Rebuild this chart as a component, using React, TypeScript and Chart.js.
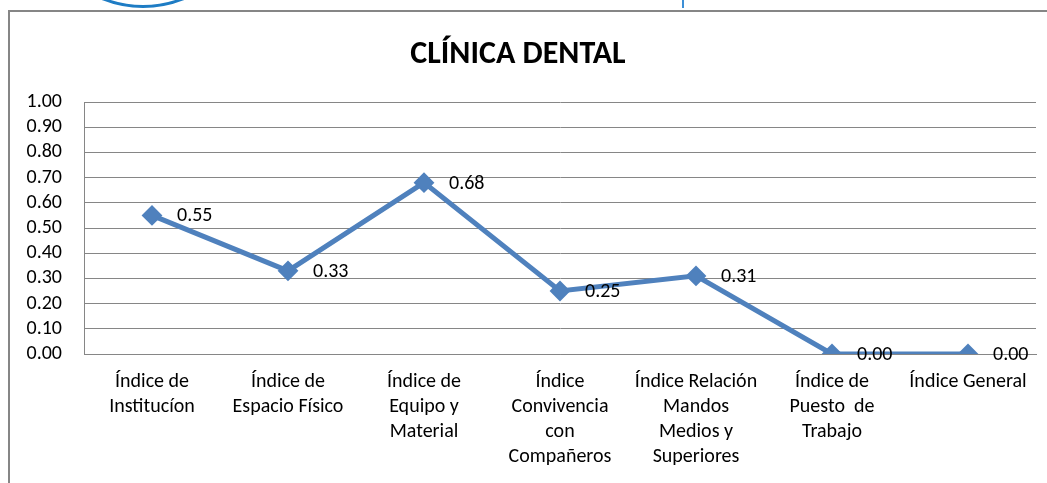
import React, { useEffect, useRef } from "react";
import { Chart, registerables } from "chart.js";

Chart.register(...registerables);

const TITLE = "CLÍNICA DENTAL";
const CATEGORIES: string[][] = [
  ["Índice de", "Institucíon"],
  ["Índice de", "Espacio Físico"],
  ["Índice de", "Equipo y", "Material"],
  ["Índice", "Convivencia", "con", "Compañeros"],
  ["Índice Relación", "Mandos", "Medios y", "Superiores"],
  ["Índice de", "Puesto  de", "Trabajo"],
  ["Índice General"],
];
const VALUES: number[] = [0.55, 0.33, 0.68, 0.25, 0.31, 0.0, 0.0];
const Y_MIN = 0;
const Y_MAX = 1;
const Y_STEP = 0.1;

const FONT = "Carlito, Lato, 'Liberation Sans', sans-serif";
const LINE_COLOR = "#4F81BD";
const GRID_COLOR = "#868686";

const dataLabels = {
  id: "dataLabels",
  afterDatasetsDraw(chart: any) {
    const ctx = chart.ctx;
    const meta = chart.getDatasetMeta(0);
    ctx.save();
    ctx.font = `20px ${FONT}`;
    ctx.fillStyle = "#000";
    ctx.textAlign = "left";
    ctx.textBaseline = "middle";
    meta.data.forEach((pt: any, i: number) => {
      const v = chart.data.datasets[0].data[i] as number;
      ctx.fillText(v.toFixed(2), pt.x + 25, pt.y + 1);
    });
    ctx.restore();
  },
};

export default function App() {
  const ref = useRef<HTMLCanvasElement>(null);
  useEffect(() => {
    if (!ref.current) return;
    const chart = new Chart(ref.current, {
      type: "line",
      data: {
        labels: CATEGORIES,
        datasets: [
          {
            data: VALUES,
            borderColor: LINE_COLOR,
            backgroundColor: LINE_COLOR,
            borderWidth: 5,
            pointStyle: "rectRot",
            pointRadius: 9,
            pointBorderWidth: 2,
            pointBackgroundColor: LINE_COLOR,
            pointBorderColor: LINE_COLOR,
            tension: 0,
            fill: false,
          },
        ],
      },
      options: {
        responsive: false,
        animation: false,
        layout: { padding: { left: 0, right: 11, top: 0, bottom: 0 } },
        plugins: {
          legend: { display: false },
          tooltip: { enabled: false },
          title: {
            display: true,
            text: TITLE,
            color: "#000",
            font: { family: FONT, size: 32, weight: "bold" },
            padding: { top: 36, bottom: 27.6 },
          },
        },
        scales: {
          x: {
            offset: true,
            grid: { display: false, drawTicks: false },
            border: { display: true, color: GRID_COLOR, width: 1 },
            ticks: {
              color: "#000",
              font: { family: FONT, size: 20, lineHeight: 1.24 },
              padding: 16,
              autoSkip: false,
              maxRotation: 0,
              minRotation: 0,
            },
            afterFit: (s: any) => {
              s.height = 129;
            },
          },
          y: {
            min: Y_MIN,
            max: Y_MAX,
            grid: { color: GRID_COLOR, lineWidth: 1, drawTicks: false },
            border: { display: true, color: GRID_COLOR, width: 1 },
            ticks: {
              stepSize: Y_STEP,
              autoSkip: false,
              color: "#000",
              font: { family: FONT, size: 20, lineHeight: 1 },
              padding: 22,
              callback: (v: any) => Number(v).toFixed(2),
            },
            afterFit: (s: any) => {
              s.width = 84;
            },
          },
        },
      },
      plugins: [dataLabels],
    });
    return () => chart.destroy();
  }, []);

  return (
    <div
      style={{
        position: "absolute",
        left: 0,
        top: 0,
        width: 1047,
        height: 483,
        overflow: "hidden",
        background: "#fff",
      }}
    >
      <div
        style={{
          position: "absolute",
          left: 33,
          top: -212,
          width: 220,
          height: 220,
          boxSizing: "border-box",
          borderRadius: "50%",
          border: "3px solid #1e7cc4",
        }}
      />
      <div
        style={{
          position: "absolute",
          left: 682,
          top: 0,
          width: 2,
          height: 8,
          background: "#3d8fd6",
        }}
      />
      <div
        style={{
          position: "absolute",
          left: 8,
          top: 10,
          width: 1100,
          height: 600,
          border: "2px solid #868686",
          background: "#fff",
        }}
      />
      <canvas
        ref={ref}
        width={1047}
        height={483}
        style={{ position: "absolute", left: 0, top: 0, width: 1047, height: 483 }}
      />
    </div>
  );
}
